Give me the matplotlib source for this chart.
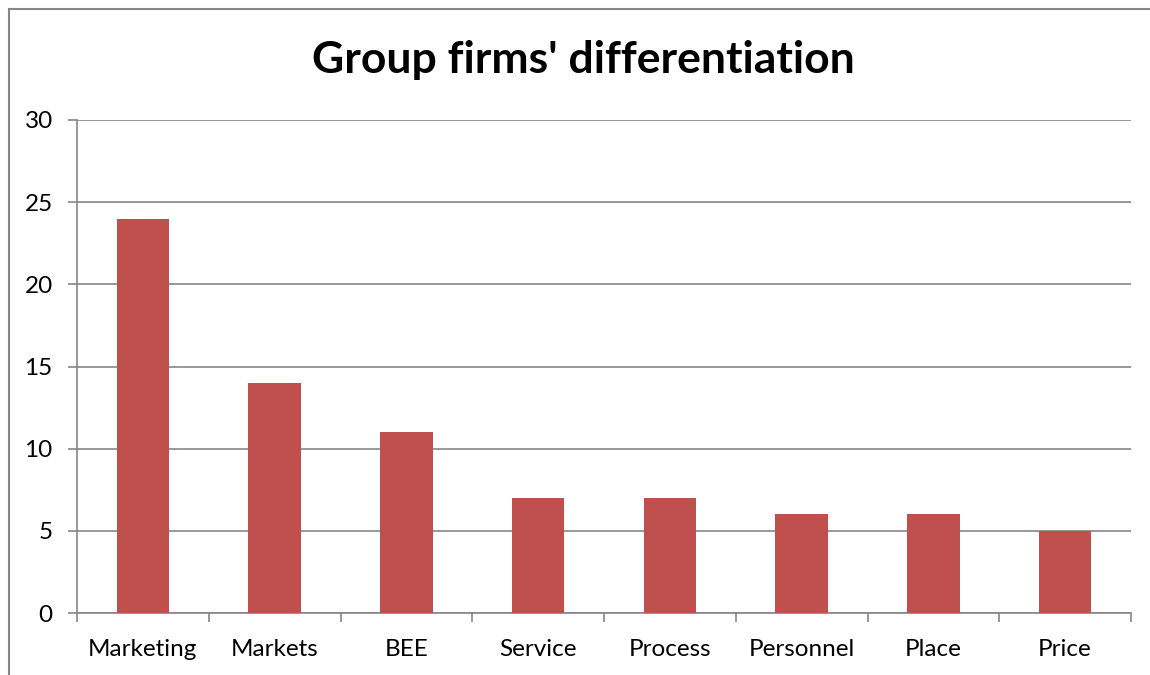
import numpy as np
import matplotlib.pyplot as plt
from matplotlib.lines import Line2D

categories = ['Marketing', 'Markets', 'BEE', 'Service', 'Process',
              'Personnel', 'Place', 'Price']
counts = [24, 14, 11, 7, 7, 6, 6, 5]
y_ticks = [0, 5, 10, 15, 20, 25, 30]

plt.rcParams['font.family'] = ['Lato', 'DejaVu Sans']

fig = plt.figure(figsize=(11.5, 6.75), dpi=100)
ax = fig.add_axes([77 / 1150, 62 / 675, (1131 - 77) / 1150, (613 - 120) / 675])

x = np.arange(len(categories))
ax.bar(x, counts, width=0.4, color='#C0504D', zorder=3)

ax.set_xlim(-0.5, len(categories) - 0.5)
ax.set_ylim(0, 30)
ax.set_yticks(y_ticks)
ax.set_xticks(x)
ax.set_xticklabels(categories)
ax.set_xticks(np.arange(len(categories) + 1) - 0.5, minor=True)

grey = '#868686'
ax.yaxis.grid(True, color=grey, linewidth=1.2, zorder=0)
for side in ['top', 'right']:
    ax.spines[side].set_visible(False)
for side in ['left', 'bottom']:
    ax.spines[side].set_color(grey)
    ax.spines[side].set_linewidth(1.2)

ax.tick_params(axis='y', length=6.5, width=1.2, color=grey, pad=11,
               labelsize=17.5)
ax.tick_params(axis='x', which='major', length=0, pad=18.5, labelsize=17.5)
ax.tick_params(axis='x', which='minor', length=6.5, width=1.2, color=grey)

fig.text(583 / 1150, 1 - 60 / 675, "Group firms' differentiation",
         ha='center', va='center', fontsize=32, fontweight='bold')

# outer chart frame (only top and left edges show in the picture)
fig.add_artist(Line2D([8.5 / 1150, 8.5 / 1150], [0, 1 - 8.5 / 675],
                      transform=fig.transFigure, color=grey, linewidth=1.5))
fig.add_artist(Line2D([8.5 / 1150, 1], [1 - 8.5 / 675, 1 - 8.5 / 675],
                      transform=fig.transFigure, color=grey, linewidth=1.5))

fig.savefig('out.png', dpi=100)
